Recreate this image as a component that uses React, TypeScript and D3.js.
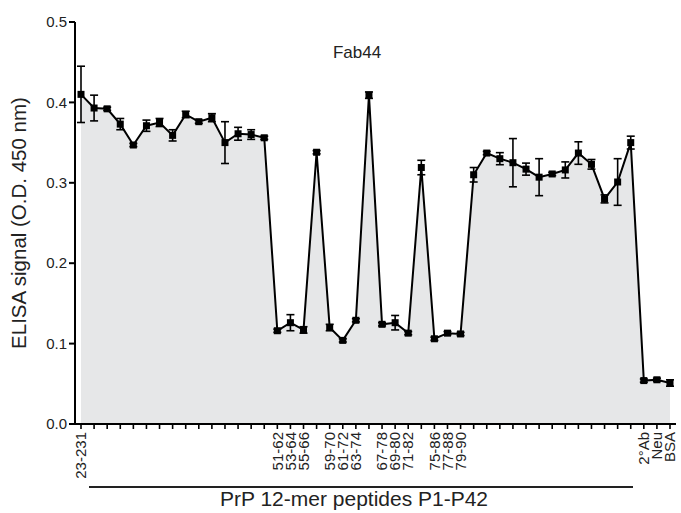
import React from "react";
import * as d3 from "d3";

const title = "Fab44";
const yTitle = "ELISA signal (O.D. 450 nm)";
const xTitle = "PrP 12-mer peptides P1-P42";

const tickLabels: string[] = [
  "23-231", "", "", "", "", "", "", "", "", "", "", "", "", "", "",
  "51-62", "53-64", "55-66", "", "59-70", "61-72", "63-74", "", "67-78", "69-80", "71-82", "", "75-86", "77-88", "79-90",
  "", "", "", "", "", "", "", "", "", "", "", "", "",
  "2°Ab", "Neu", "BSA",
];

const values: number[] = [
  0.410, 0.393, 0.392, 0.373, 0.347, 0.371, 0.375, 0.359, 0.385, 0.376, 0.381, 0.350, 0.361, 0.360, 0.356,
  0.116, 0.126, 0.117, 0.338, 0.120, 0.104, 0.129, 0.409, 0.124, 0.126, 0.113, 0.319, 0.106, 0.113, 0.112,
  0.310, 0.337, 0.330, 0.325, 0.317, 0.307, 0.311, 0.316, 0.337, 0.323, 0.280, 0.301, 0.350,
  0.054, 0.055, 0.051,
];

const errors: number[] = [
  0.035, 0.016, 0.002, 0.007, 0.002, 0.007, 0.005, 0.007, 0.004, 0.002, 0.005, 0.026, 0.008, 0.006, 0.002,
  0.002, 0.010, 0.004, 0.002, 0.004, 0.002, 0.002, 0.004, 0.002, 0.009, 0.002, 0.009, 0.002, 0.002, 0.002,
  0.009, 0.002, 0.0075, 0.030, 0.0075, 0.023, 0.002, 0.010, 0.014, 0.006, 0.005, 0.029, 0.008,
  0.002, 0.002, 0.004,
];

const yTicks = [0, 0.1, 0.2, 0.3, 0.4, 0.5];

const W = 681;
const H = 513;
const FONT = "'Liberation Sans', Arial, Helvetica, sans-serif";

export default function App() {
  const keys = values.map((_, i) => String(i));
  const x = d3.scalePoint<string>().domain(keys).range([81, 670]);
  const y = d3.scaleLinear().domain([0, 0.5]).range([424, 22]);
  const axisX = 75;

  const area = d3
    .area<number>()
    .x((_, i) => x(String(i)) as number)
    .y0(y(0))
    .y1((d) => y(d));
  const line = d3
    .line<number>()
    .x((_, i) => x(String(i)) as number)
    .y((d) => y(d));

  const cap = 4;
  const ms = 7;

  return (
    <svg
      width={W}
      height={H}
      style={{ position: "absolute", left: 0, top: 0, background: "#fff" }}
      fontFamily={FONT}
    >
      <path d={area(values) || ""} fill="#e6e7e8" stroke="none" />
      <path d={line(values) || ""} fill="none" stroke="#000" strokeWidth={2} />
      {values.map((v, i) => {
        const cx = x(String(i)) as number;
        const e = errors[i];
        return (
          <g key={i} stroke="#000" strokeWidth={1.6}>
            <line x1={cx} x2={cx} y1={y(v + e)} y2={y(v - e)} />
            <line x1={cx - cap} x2={cx + cap} y1={y(v + e)} y2={y(v + e)} />
            <line x1={cx - cap} x2={cx + cap} y1={y(v - e)} y2={y(v - e)} />
            <rect x={cx - ms / 2} y={y(v) - ms / 2} width={ms} height={ms} fill="#000" stroke="none" />
          </g>
        );
      })}

      {/* Y axis */}
      <line x1={axisX} x2={axisX} y1={y(0.5)} y2={y(0)} stroke="#000" strokeWidth={2} />
      {yTicks.map((t) => (
        <g key={t}>
          <line x1={axisX - 6} x2={axisX} y1={y(t)} y2={y(t)} stroke="#000" strokeWidth={2} />
          <text x={axisX - 8} y={y(t)} dy="0.35em" textAnchor="end" fontSize={15} fill="#222">
            {t.toFixed(1)}
          </text>
        </g>
      ))}

      {/* X axis */}
      <line x1={axisX - 1} x2={676} y1={y(0)} y2={y(0)} stroke="#000" strokeWidth={2} />
      {keys.map((k, i) => {
        const cx = x(k) as number;
        return (
          <g key={k}>
            <line x1={cx} x2={cx} y1={y(0)} y2={y(0) + 5} stroke="#000" strokeWidth={1.6} />
            {tickLabels[i] ? (
              <text
                transform={`translate(${cx},${y(0) + 8}) rotate(-90)`}
                dy="0.35em"
                textAnchor="end"
                fontSize={15}
                fill="#222"
              >
                {tickLabels[i]}
              </text>
            ) : null}
          </g>
        );
      })}

      <line x1={89} x2={633} y1={487} y2={487} stroke="#222" strokeWidth={2} />
      <text x={354} y={506} textAnchor="middle" fontSize={21} fill="#222">
        {xTitle}
      </text>

      <text
        transform={`translate(26,${(y(0) + y(0.5)) / 2}) rotate(-90)`}
        textAnchor="middle"
        fontSize={20.5}
        fill="#222"
      >
        {yTitle}
      </text>

      <text x={357} y={58} textAnchor="middle" fontSize={17} fill="#222">
        {title}
      </text>
    </svg>
  );
}
